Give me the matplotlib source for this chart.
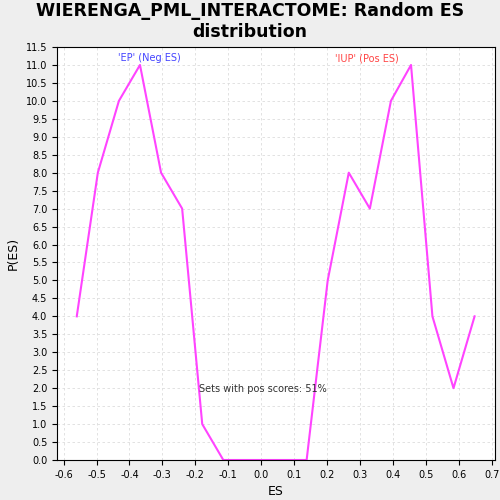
import matplotlib

matplotlib.use("Agg")
from matplotlib import pyplot as plt
import numpy as np

es_values = [-0.560, -0.496, -0.432, -0.368, -0.304, -0.240, -0.179, -0.115,
             -0.051, 0.013, 0.077, 0.138, 0.202, 0.266, 0.330, 0.394, 0.455,
             0.520, 0.584, 0.648]
p_values = [4, 8, 10, 11, 8, 7, 1, 0, 0, 0, 0, 0, 5, 8, 7, 10, 11, 4, 2, 4]
x_ticks = [round(v, 1) + 0.0 for v in np.arange(-0.6, 0.71, 0.1)]
y_ticks = [round(v, 1) for v in np.arange(0, 11.51, 0.5)]

fig = plt.figure(figsize=(5, 5), dpi=100, facecolor="#eeeeee")
ax = fig.add_axes([0.114, 0.08, 0.876, 0.826])
ax.plot(es_values, p_values, color="#ff44ff", linewidth=1.5)
ax.set_xlim(-0.62, 0.71)
ax.set_ylim(0, 11.5)
ax.set_xticks(x_ticks)
ax.set_xticklabels([f"{abs(v) if abs(v) < 1e-9 else v:.1f}" for v in x_ticks], fontsize=7)
ax.set_yticks(y_ticks)
ax.set_yticklabels([f"{v:.1f}" for v in y_ticks], fontsize=7)
ax.grid(True, color="#dddddd", linestyle=(0, (3, 3)), linewidth=0.6)
ax.set_xlabel("ES", fontsize=9)
ax.set_ylabel("P(ES)", fontsize=9)
fig.suptitle("WIERENGA_PML_INTERACTOME: Random ES\ndistribution",
             fontsize=12.5, fontweight="bold", y=0.995)
ax.text(-0.34, 11.1, "'EP' (Neg ES)", color="#4444ff", fontsize=7, ha="center")
ax.text(0.32, 11.1, "'IUP' (Pos ES)", color="#ff4444", fontsize=7, ha="center")
ax.text(-0.19, 1.9, "Sets with pos scores: 51%", fontsize=7, color="#333333")
fig.savefig("out.png", dpi=100, facecolor=fig.get_facecolor())
